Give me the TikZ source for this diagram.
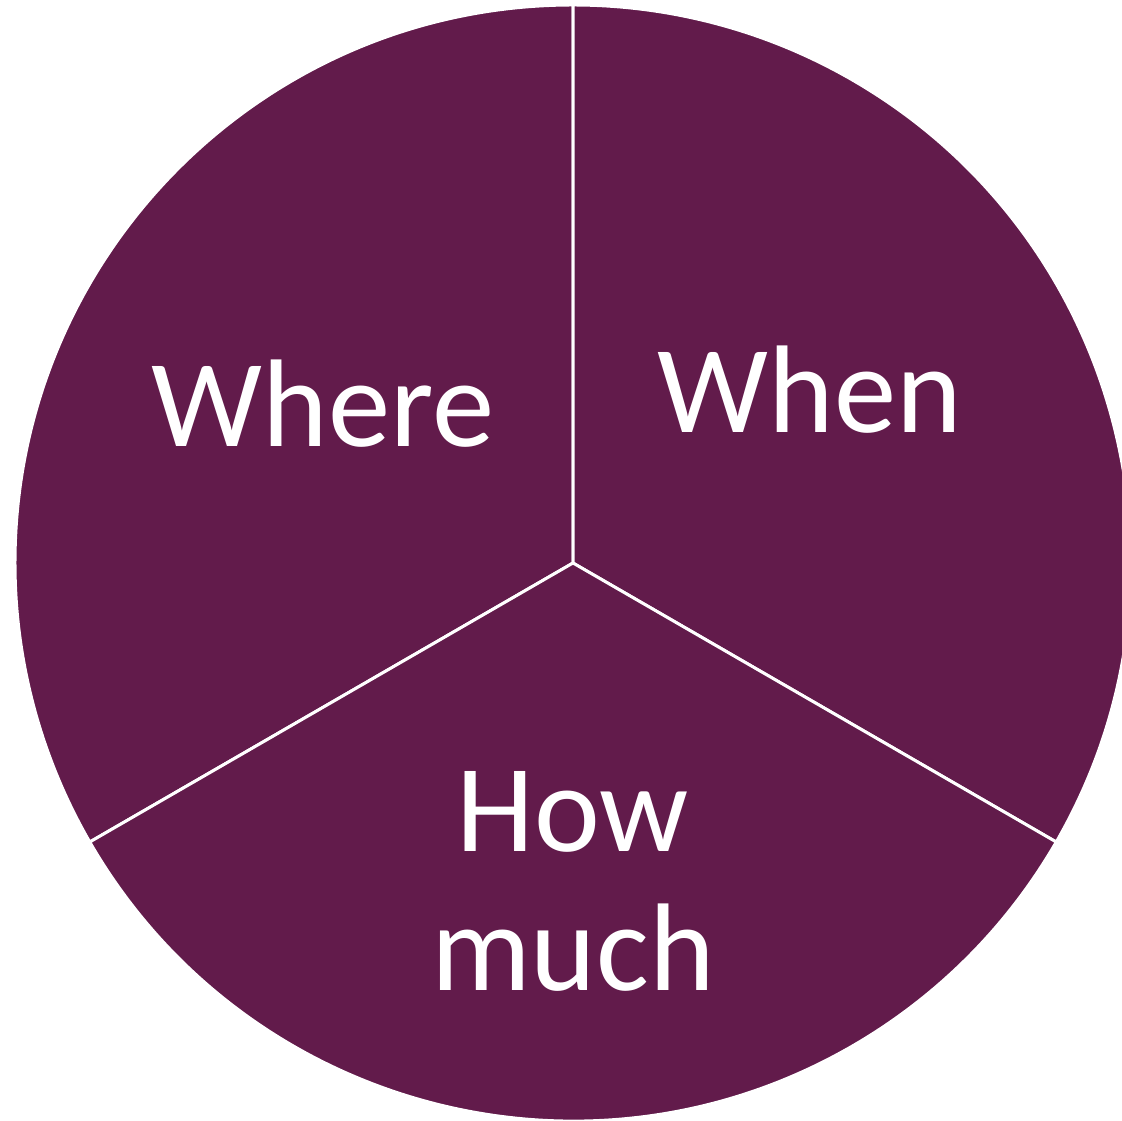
\documentclass[tikz,border=0pt]{standalone}
\usepackage{fontspec}
\setmainfont{Carlito}
\definecolor{wine}{RGB}{98,27,75}
\tikzset{
  sector/.style={fill=wine, draw=white, line width=1.7pt, line join=miter},
  label/.style={text=white, font=\fontsize{71}{79}\selectfont, inner sep=0pt, align=center}
}
\begin{document}
\begin{tikzpicture}[x=0.02cm,y=0.02cm]
            % Define coordinates
            \useasboundingbox (0,0) rectangle (1122,1120);
            \clip (0,0) rectangle (1122,1120);
            \coordinate (c) at (573,557);

            % Draw sectors
            \foreach \a/\b in {90/210, -30/90, 210/330} {
                \draw[sector] (c) -- ++(\a:558) arc[start angle=\a, end angle=\b, radius=558] -- cycle;
            }

            % Labels
            \node[label, anchor=base] (where) at (323,673) {Where};
            \node[label, anchor=base] (when) at (810,687) {When};
            \node[label, anchor=base] (howmuch) at (573,130) {How\\much};
        \end{tikzpicture}
\end{document}
